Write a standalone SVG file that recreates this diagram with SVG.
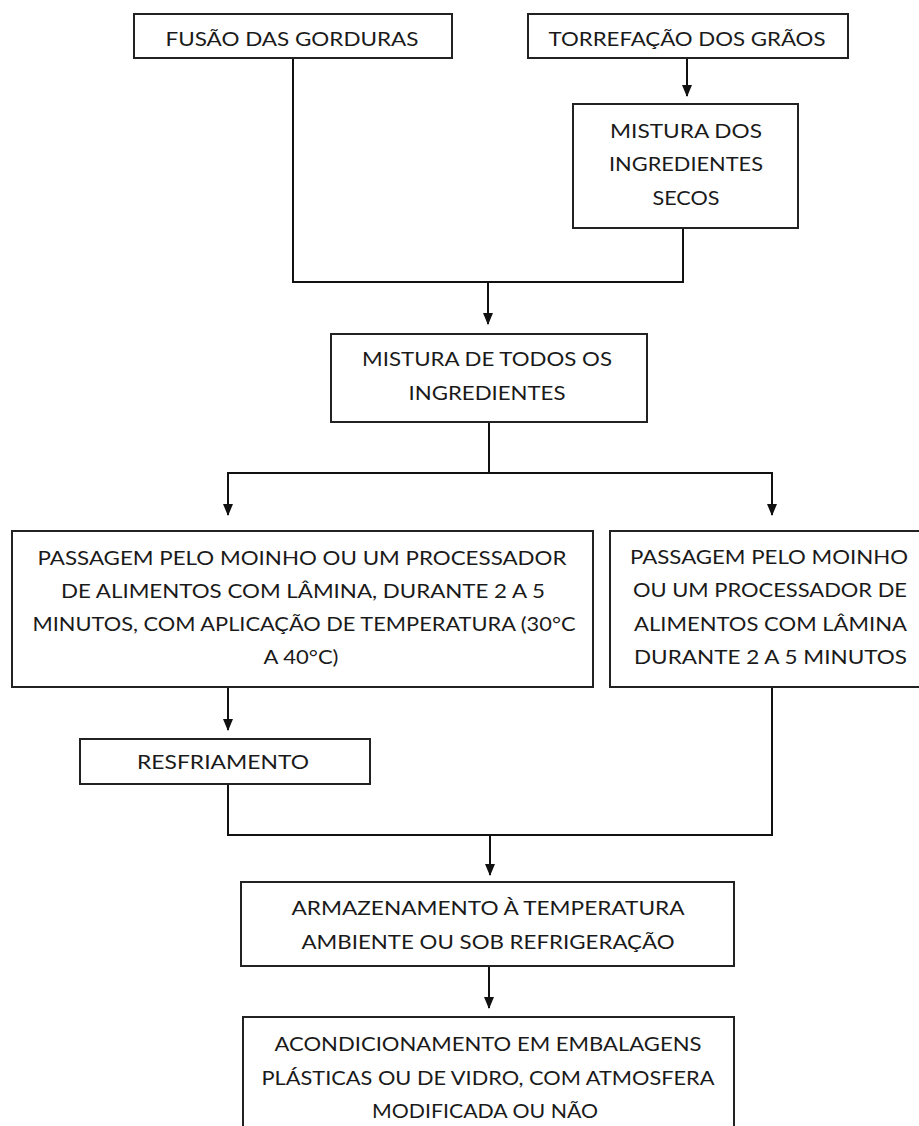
<svg xmlns="http://www.w3.org/2000/svg" width="919" height="1126" viewBox="0 0 919 1126">
<style>
.box{fill:#fff;stroke:#222;stroke-width:2}
.t{font-family:Lato,"Liberation Sans",sans-serif;font-size:20px;fill:#1a1a1a;text-anchor:middle}
.c{fill:none;stroke:#111;stroke-width:2}
.a{marker-end:url(#ah)}
</style>
<defs>
<marker id="ah" viewBox="0 0 12 10" markerWidth="12" markerHeight="10" refX="11" refY="5" orient="auto" markerUnits="userSpaceOnUse">
<path d="M0,0 L12,5 L0,10 z" fill="#111"/>
</marker>
</defs>
<rect width="919" height="1126" fill="#fff"/>
<g id="connectors">
<polyline class="c" points="293,58 293,282 683,282 683,228"/>
<line class="c a" x1="488" y1="282" x2="488" y2="324"/>
<line class="c a" x1="687" y1="58" x2="687" y2="96"/>
<polyline class="c" points="489,422 489,473"/>
<polyline class="c" points="228,513 228,473 772,473 772,513"/>
<line class="c a" x1="228" y1="473" x2="228" y2="515"/>
<line class="c a" x1="772" y1="473" x2="772" y2="515"/>
<line class="c a" x1="228" y1="688" x2="228" y2="730"/>
<polyline class="c" points="228,784 228,835 772,835 772,688"/>
<line class="c a" x1="490" y1="835" x2="490" y2="875"/>
<line class="c a" x1="489" y1="966" x2="489" y2="1008"/>
</g>
<g id="fusao">
<rect class="box" x="134" y="14" width="318" height="44"/>
<text class="t" x="292" y="46" textLength="253" lengthAdjust="spacingAndGlyphs">FUSÃO DAS GORDURAS</text>
</g>
<g id="torrefacao">
<rect class="box" x="528" y="14" width="320" height="44"/>
<text class="t" x="687" y="46" textLength="277" lengthAdjust="spacingAndGlyphs">TORREFAÇÃO DOS GRÃOS</text>
</g>
<g id="mistura-secos">
<rect class="box" x="573" y="104" width="225" height="124"/>
<text class="t" x="686" y="138" textLength="152" lengthAdjust="spacingAndGlyphs">MISTURA DOS</text>
<text class="t" x="686" y="171" textLength="154" lengthAdjust="spacingAndGlyphs">INGREDIENTES</text>
<text class="t" x="686" y="205" textLength="67" lengthAdjust="spacingAndGlyphs">SECOS</text>
</g>
<g id="mistura-todos">
<rect class="box" x="331" y="334" width="316" height="88"/>
<text class="t" x="487" y="366" textLength="250" lengthAdjust="spacingAndGlyphs">MISTURA DE TODOS OS</text>
<text class="t" x="487" y="400" textLength="157" lengthAdjust="spacingAndGlyphs">INGREDIENTES</text>
</g>
<g id="passagem-temperatura">
<rect class="box" x="12" y="531" width="581" height="156"/>
<text class="t" x="302" y="565" textLength="529" lengthAdjust="spacingAndGlyphs">PASSAGEM PELO MOINHO OU UM PROCESSADOR</text>
<text class="t" x="303" y="598" textLength="484" lengthAdjust="spacingAndGlyphs">DE ALIMENTOS COM LÂMINA, DURANTE 2 A 5</text>
<text class="t" x="304" y="631" textLength="543" lengthAdjust="spacingAndGlyphs">MINUTOS, COM APLICAÇÃO DE TEMPERATURA (30°C</text>
<text class="t" x="301" y="664" textLength="75" lengthAdjust="spacingAndGlyphs">A 40°C)</text>
</g>
<g id="passagem">
<rect class="box" x="610" y="531" width="320" height="156"/>
<text class="t" x="769" y="564" textLength="278" lengthAdjust="spacingAndGlyphs">PASSAGEM PELO MOINHO</text>
<text class="t" x="770" y="597" textLength="274" lengthAdjust="spacingAndGlyphs">OU UM PROCESSADOR DE</text>
<text class="t" x="770.5" y="631" textLength="273" lengthAdjust="spacingAndGlyphs">ALIMENTOS COM LÂMINA</text>
<text class="t" x="770.5" y="664" textLength="273" lengthAdjust="spacingAndGlyphs">DURANTE 2 A 5 MINUTOS</text>
</g>
<g id="resfriamento">
<rect class="box" x="80" y="739" width="290" height="45"/>
<text class="t" x="223" y="769" textLength="172" lengthAdjust="spacingAndGlyphs">RESFRIAMENTO</text>
</g>
<g id="armazenamento">
<rect class="box" x="241" y="882" width="493" height="84"/>
<text class="t" x="488" y="915" textLength="393" lengthAdjust="spacingAndGlyphs">ARMAZENAMENTO À TEMPERATURA</text>
<text class="t" x="488" y="949" textLength="373" lengthAdjust="spacingAndGlyphs">AMBIENTE OU SOB REFRIGERAÇÃO</text>
</g>
<g id="acondicionamento">
<rect class="box" x="243" y="1017" width="491" height="130"/>
<text class="t" x="488" y="1051" textLength="427" lengthAdjust="spacingAndGlyphs">ACONDICIONAMENTO EM EMBALAGENS</text>
<text class="t" x="488" y="1085" textLength="453" lengthAdjust="spacingAndGlyphs">PLÁSTICAS OU DE VIDRO, COM ATMOSFERA</text>
<text class="t" x="485" y="1118" textLength="226" lengthAdjust="spacingAndGlyphs">MODIFICADA OU NÃO</text>
</g>
</svg>
